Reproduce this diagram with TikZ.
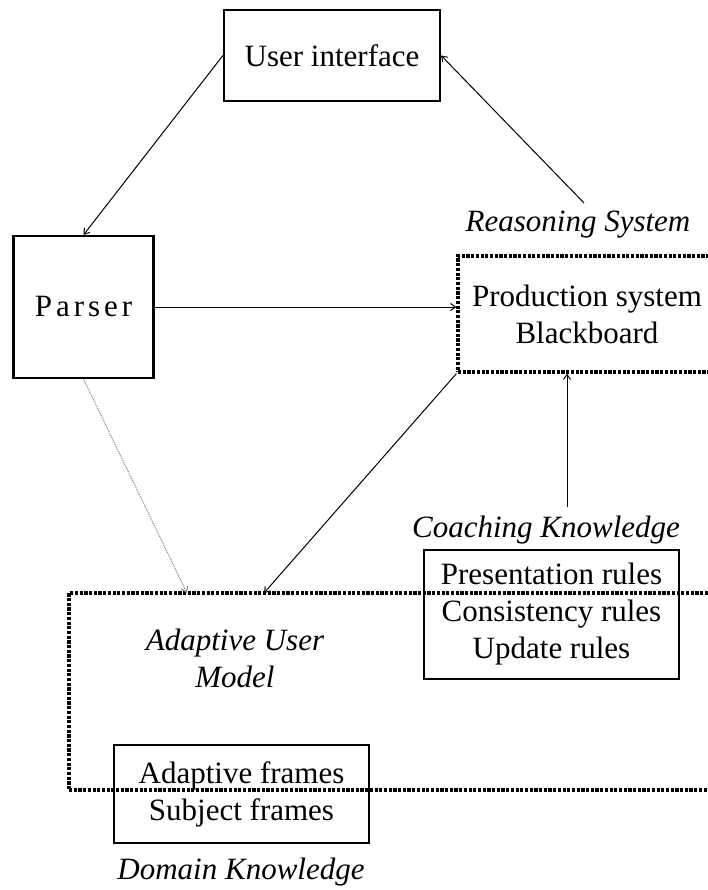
\documentclass[tikz,border=0pt]{standalone}
\usepackage{fontspec}
\setmainfont{Liberation Serif}
\usetikzlibrary{arrows.meta}
\begin{document}
\begin{tikzpicture}[x=1pt,y=-1pt,
  every node/.style={font=\fontsize{31}{37}\selectfont, inner sep=0pt, align=center},
  solidbox/.style={draw, line width=2.2pt, rectangle},
  dotbox/.style={draw, line width=3.2pt, dash pattern=on 3.2pt off 1.5pt, rectangle},
  lbl/.style={font=\fontsize{31}{37}\selectfont\itshape},
  arr/.style={line width=1pt, -{Straight Barb[length=5pt,width=7pt]}},
  dotarr/.style={line width=1pt, gray, dash pattern=on 1pt off 1pt, -{Straight Barb[length=5pt,width=7pt]}}
]
\useasboundingbox (0,0) rectangle (708,890);
\clip (0,0) rectangle (708,890);

% boxes
\node[solidbox, minimum width=216pt, minimum height=91pt] (ui) at (332,55.5) {User interface};
\node[solidbox, minimum width=140pt, minimum height=142pt] (parser) at (83.5,307)
  {P\kern4pt a\kern4pt r\kern4pt s\kern4pt e\kern4pt r};
\node[dotbox, minimum width=258pt, minimum height=116pt] (prod) at (587,314)
  {Production system\\Blackboard};
\node[solidbox, minimum width=255pt, minimum height=129pt] (rules) at (551.5,614.5)
  {Presentation rules\\Consistency rules\\Update rules};
\node[dotbox, minimum width=651pt, minimum height=197pt] (aum) at (394.5,691.5) {};
\node[solidbox, minimum width=255pt, minimum height=98pt] (frames) at (241.5,794)
  {Adaptive frames\\Subject frames};

% labels
\node[lbl] (rs) at (578,225) {Reasoning System};
\node[lbl] (ck) at (546,530) {Coaching Knowledge};
\node[lbl] (aumlabel) at (235,658.5) {Adaptive User\\Model};
\node[lbl] (dk) at (241,872) {Domain Knowledge};

% free ends
\coordinate (rsTop) at (584,203);
\coordinate (ckTop) at (567,507);
\coordinate (aumA) at (187,593);
\coordinate (aumB) at (264,593);

% connectors
\draw[arr] (ui.west) -- (parser.north);
\draw[arr] (rsTop) -- (ui.east);
\draw[arr] (parser.east) -- (parser.east -| prod.west);
\draw[arr] (ckTop) -- (ckTop |- prod.south);
\draw[arr] (prod.south west) -- (aumB);
\draw[dotarr] (parser.south) -- (aumA);
\end{tikzpicture}
\end{document}
